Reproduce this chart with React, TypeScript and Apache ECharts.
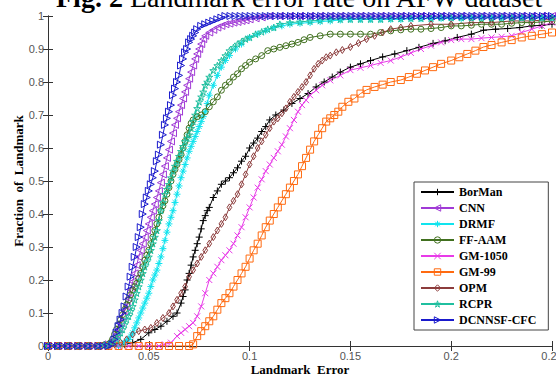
import React, { useEffect, useRef } from "react";
import * as echarts from "echarts";

const seriesNames = ["BorMan", "CNN", "DRMF", "FF-AAM", "GM-1050", "GM-99", "OPM", "RCPR", "DCNNSF-CFC"];
const seriesColors = ["#000000", "#a03ad6", "#10e4ee", "#41701f", "#e83be8", "#ff6a10", "#8c3c3c", "#1fbf9f", "#1a1acc"];
const xTickLabels = ["0", "0.05", "0.1", "0.15", "0.2", "0.25"];
const yTickLabels = ["0", "0.1", "0.2", "0.3", "0.4", "0.5", "0.6", "0.7", "0.8", "0.9", "1"];

const borman = [
  [0, 0], [0.005, 0], [0.01, 0], [0.015, 0], [0.02, 0], [0.025, 0], [0.03, 0], [0.035, 0],
  [0.038, 0.005], [0.042, 0.01], [0.046, 0.02], [0.05, 0.04], [0.053, 0.05], [0.056, 0.06], [0.059, 0.075],
  [0.062, 0.09], [0.064, 0.1], [0.066, 0.13], [0.067, 0.15], [0.068, 0.17], [0.069, 0.2], [0.07, 0.22],
  [0.071, 0.245], [0.072, 0.27], [0.073, 0.29], [0.074, 0.31], [0.075, 0.33], [0.076, 0.355], [0.077, 0.38],
  [0.078, 0.395], [0.079, 0.41], [0.08, 0.42], [0.082, 0.45], [0.084, 0.47], [0.086, 0.49], [0.088, 0.5],
  [0.09, 0.51], [0.092, 0.525], [0.094, 0.54], [0.096, 0.56], [0.098, 0.575], [0.1, 0.6], [0.102, 0.615],
  [0.104, 0.63], [0.106, 0.65], [0.108, 0.665], [0.11, 0.685], [0.113, 0.7], [0.117, 0.715], [0.121, 0.735],
  [0.125, 0.75], [0.129, 0.765], [0.133, 0.785], [0.137, 0.8], [0.141, 0.815], [0.145, 0.83], [0.15, 0.845],
  [0.155, 0.855], [0.16, 0.865], [0.166, 0.876], [0.172, 0.885], [0.178, 0.895], [0.184, 0.905], [0.191, 0.917],
  [0.197, 0.925], [0.203, 0.935], [0.21, 0.945], [0.216, 0.957], [0.222, 0.96], [0.228, 0.962], [0.234, 0.965],
  [0.24, 0.97], [0.245, 0.972], [0.25, 0.975],
];

const cnn = [
  [0, 0], [0.005, 0], [0.01, 0], [0.015, 0], [0.02, 0], [0.025, 0], [0.027, 0.005], [0.029, 0.005], [0.031, 0.01],
  [0.033, 0.02], [0.034, 0.035], [0.035, 0.05], [0.036, 0.07], [0.037, 0.09], [0.038, 0.105], [0.039, 0.12],
  [0.04, 0.145], [0.041, 0.17], [0.042, 0.195], [0.043, 0.22], [0.044, 0.245], [0.045, 0.27], [0.046, 0.29],
  [0.047, 0.31], [0.048, 0.33], [0.049, 0.35], [0.05, 0.37], [0.051, 0.39], [0.052, 0.41], [0.053, 0.43],
  [0.054, 0.45], [0.055, 0.47], [0.056, 0.495], [0.057, 0.52], [0.058, 0.545], [0.059, 0.57], [0.06, 0.595],
  [0.061, 0.62], [0.062, 0.645], [0.063, 0.67], [0.064, 0.69], [0.065, 0.71], [0.066, 0.73], [0.067, 0.75],
  [0.068, 0.77], [0.069, 0.79], [0.07, 0.81], [0.071, 0.83], [0.072, 0.85], [0.073, 0.87], [0.074, 0.885],
  [0.075, 0.9], [0.076, 0.915], [0.077, 0.93], [0.078, 0.94], [0.08, 0.95], [0.082, 0.958], [0.084, 0.965],
  [0.086, 0.97], [0.088, 0.975], [0.09, 0.977], [0.092, 0.98], [0.094, 0.982], [0.096, 0.985], [0.098, 0.987],
  [0.1, 0.99], [0.103, 0.993], [0.106, 0.996], [0.11, 1], [0.115, 1], [0.12, 1], [0.125, 1], [0.13, 1],
  [0.135, 1], [0.14, 1], [0.145, 1], [0.15, 1], [0.155, 1], [0.16, 1], [0.165, 1], [0.17, 1], [0.175, 1],
  [0.18, 1], [0.185, 1], [0.19, 1], [0.195, 1], [0.2, 1], [0.205, 1], [0.21, 1], [0.215, 1], [0.22, 1],
  [0.225, 1], [0.23, 1], [0.235, 1], [0.24, 1], [0.245, 1], [0.25, 1],
];

const drmf = [
  [0, 0], [0.005, 0], [0.01, 0], [0.015, 0], [0.02, 0], [0.025, 0], [0.03, 0], [0.035, 0], [0.036, 0.003],
  [0.038, 0.01], [0.039, 0.015], [0.04, 0.02], [0.041, 0.03], [0.042, 0.04], [0.043, 0.055], [0.044, 0.07],
  [0.045, 0.085], [0.046, 0.1], [0.047, 0.115], [0.048, 0.13], [0.049, 0.145], [0.05, 0.16], [0.051, 0.18],
  [0.052, 0.2], [0.053, 0.215], [0.054, 0.23], [0.055, 0.25], [0.056, 0.27], [0.057, 0.295], [0.058, 0.32],
  [0.059, 0.345], [0.06, 0.37], [0.061, 0.39], [0.062, 0.41], [0.063, 0.435], [0.064, 0.46], [0.065, 0.485],
  [0.066, 0.51], [0.067, 0.53], [0.068, 0.55], [0.069, 0.57], [0.07, 0.59], [0.071, 0.605], [0.072, 0.62],
  [0.073, 0.635], [0.074, 0.65], [0.075, 0.665], [0.076, 0.68], [0.077, 0.695], [0.078, 0.71], [0.079, 0.735],
  [0.08, 0.76], [0.082, 0.79], [0.084, 0.82], [0.086, 0.845], [0.088, 0.865], [0.09, 0.88], [0.093, 0.9],
  [0.096, 0.915], [0.1, 0.935], [0.104, 0.945], [0.108, 0.955], [0.112, 0.965], [0.116, 0.97], [0.12, 0.975],
  [0.125, 0.978], [0.13, 0.98], [0.135, 0.983], [0.14, 0.985], [0.145, 0.988], [0.15, 0.99], [0.155, 0.99],
  [0.16, 0.99], [0.165, 0.99], [0.17, 0.99], [0.175, 0.99], [0.18, 0.992], [0.185, 0.992], [0.19, 0.992],
  [0.195, 0.993], [0.2, 0.993], [0.205, 0.993], [0.21, 0.995], [0.215, 0.995], [0.22, 0.995], [0.225, 0.995],
  [0.23, 0.995], [0.235, 0.995], [0.24, 0.995], [0.245, 0.995], [0.25, 0.995],
];

const ffaam = [
  [0, 0], [0.005, 0], [0.01, 0], [0.015, 0], [0.02, 0], [0.025, 0], [0.028, 0.003], [0.03, 0.005], [0.031, 0.01],
  [0.032, 0.02], [0.033, 0.035], [0.034, 0.05], [0.035, 0.065], [0.036, 0.08], [0.037, 0.095], [0.038, 0.11],
  [0.039, 0.125], [0.04, 0.14], [0.041, 0.155], [0.042, 0.17], [0.043, 0.18], [0.044, 0.19], [0.045, 0.205],
  [0.046, 0.22], [0.047, 0.24], [0.048, 0.26], [0.049, 0.275], [0.05, 0.29], [0.051, 0.31], [0.052, 0.33],
  [0.053, 0.35], [0.054, 0.37], [0.055, 0.39], [0.056, 0.41], [0.057, 0.425], [0.058, 0.44], [0.059, 0.46],
  [0.06, 0.48], [0.061, 0.5], [0.062, 0.52], [0.063, 0.535], [0.064, 0.55], [0.065, 0.565], [0.066, 0.58],
  [0.067, 0.6], [0.068, 0.62], [0.069, 0.64], [0.07, 0.66], [0.071, 0.675], [0.072, 0.685], [0.074, 0.695],
  [0.076, 0.7], [0.078, 0.71], [0.08, 0.725], [0.082, 0.74], [0.084, 0.755], [0.086, 0.775], [0.088, 0.79],
  [0.09, 0.8], [0.092, 0.815], [0.094, 0.825], [0.096, 0.84], [0.098, 0.85], [0.1, 0.86], [0.103, 0.87],
  [0.106, 0.88], [0.109, 0.895], [0.112, 0.9], [0.115, 0.905], [0.118, 0.91], [0.121, 0.915], [0.124, 0.92],
  [0.127, 0.928], [0.13, 0.935], [0.135, 0.94], [0.14, 0.945], [0.145, 0.945], [0.15, 0.945], [0.155, 0.945],
  [0.16, 0.945], [0.165, 0.95], [0.17, 0.955], [0.175, 0.958], [0.18, 0.96], [0.185, 0.96], [0.19, 0.962],
  [0.195, 0.965], [0.2, 0.97], [0.205, 0.97], [0.21, 0.972], [0.215, 0.975], [0.22, 0.975], [0.225, 0.975],
  [0.23, 0.978], [0.235, 0.98], [0.24, 0.98], [0.245, 0.982], [0.25, 0.985],
];

const gm1050 = [
  [0, 0], [0.005, 0], [0.01, 0], [0.015, 0], [0.02, 0], [0.025, 0], [0.03, 0], [0.035, 0], [0.04, 0], [0.045, 0],
  [0.05, 0], [0.055, 0], [0.058, 0.005], [0.061, 0.01], [0.064, 0.03], [0.066, 0.04], [0.068, 0.05], [0.07, 0.06],
  [0.072, 0.07], [0.074, 0.09], [0.076, 0.12], [0.078, 0.16], [0.08, 0.2], [0.082, 0.22], [0.084, 0.24],
  [0.086, 0.26], [0.088, 0.275], [0.09, 0.29], [0.092, 0.31], [0.094, 0.335], [0.096, 0.36], [0.098, 0.39],
  [0.1, 0.42], [0.102, 0.45], [0.104, 0.48], [0.106, 0.505], [0.108, 0.53], [0.11, 0.55], [0.112, 0.57],
  [0.114, 0.59], [0.116, 0.61], [0.118, 0.635], [0.12, 0.66], [0.122, 0.685], [0.124, 0.71], [0.126, 0.73],
  [0.128, 0.745], [0.13, 0.76], [0.133, 0.775], [0.136, 0.79], [0.14, 0.805], [0.145, 0.82], [0.15, 0.836],
  [0.155, 0.843], [0.16, 0.85], [0.165, 0.858], [0.17, 0.865], [0.175, 0.876], [0.18, 0.888], [0.185, 0.9],
  [0.19, 0.91], [0.195, 0.92], [0.2, 0.927], [0.205, 0.93], [0.21, 0.93], [0.215, 0.933], [0.22, 0.935],
  [0.225, 0.937], [0.23, 0.94], [0.235, 0.95], [0.24, 0.96], [0.245, 0.97], [0.25, 0.98],
];

const gm99 = [
  [0, 0], [0.005, 0], [0.01, 0], [0.015, 0], [0.02, 0], [0.025, 0], [0.03, 0], [0.035, 0], [0.04, 0], [0.045, 0],
  [0.05, 0], [0.055, 0], [0.06, 0], [0.065, 0], [0.07, 0], [0.072, 0.005], [0.074, 0.03], [0.076, 0.045],
  [0.078, 0.06], [0.08, 0.075], [0.082, 0.09], [0.084, 0.11], [0.086, 0.13], [0.088, 0.145], [0.09, 0.16],
  [0.092, 0.18], [0.094, 0.2], [0.096, 0.22], [0.098, 0.24], [0.1, 0.265], [0.102, 0.29], [0.104, 0.31],
  [0.106, 0.335], [0.108, 0.36], [0.11, 0.38], [0.112, 0.4], [0.114, 0.42], [0.116, 0.44], [0.118, 0.46],
  [0.12, 0.48], [0.122, 0.5], [0.124, 0.52], [0.126, 0.545], [0.128, 0.57], [0.13, 0.595], [0.132, 0.62],
  [0.134, 0.64], [0.136, 0.66], [0.138, 0.68], [0.14, 0.69], [0.142, 0.7], [0.144, 0.71], [0.146, 0.725],
  [0.149, 0.74], [0.152, 0.75], [0.155, 0.765], [0.158, 0.776], [0.162, 0.785], [0.166, 0.792], [0.17, 0.8],
  [0.175, 0.806], [0.179, 0.815], [0.183, 0.825], [0.187, 0.835], [0.191, 0.845], [0.195, 0.855], [0.2, 0.865],
  [0.204, 0.875], [0.208, 0.885], [0.212, 0.895], [0.216, 0.906], [0.22, 0.912], [0.225, 0.92], [0.23, 0.927],
  [0.235, 0.935], [0.24, 0.94], [0.245, 0.945], [0.25, 0.95],
];

const opm = [
  [0, 0], [0.005, 0], [0.01, 0], [0.015, 0], [0.02, 0], [0.025, 0], [0.03, 0], [0.033, 0.005], [0.036, 0.01],
  [0.039, 0.02], [0.042, 0.035], [0.045, 0.045], [0.048, 0.05], [0.051, 0.055], [0.054, 0.07], [0.057, 0.085],
  [0.06, 0.1], [0.062, 0.12], [0.064, 0.14], [0.066, 0.16], [0.068, 0.18], [0.07, 0.21], [0.072, 0.23],
  [0.074, 0.25], [0.076, 0.27], [0.078, 0.29], [0.08, 0.31], [0.082, 0.33], [0.084, 0.35], [0.086, 0.37],
  [0.088, 0.39], [0.09, 0.42], [0.092, 0.44], [0.094, 0.46], [0.096, 0.49], [0.098, 0.52], [0.1, 0.55],
  [0.102, 0.575], [0.104, 0.6], [0.106, 0.62], [0.108, 0.64], [0.11, 0.66], [0.112, 0.68], [0.114, 0.69],
  [0.116, 0.705], [0.118, 0.72], [0.12, 0.74], [0.122, 0.755], [0.124, 0.77], [0.126, 0.785], [0.128, 0.8],
  [0.13, 0.82], [0.132, 0.84], [0.134, 0.855], [0.136, 0.865], [0.138, 0.875], [0.14, 0.88], [0.143, 0.89],
  [0.146, 0.897], [0.15, 0.906], [0.154, 0.918], [0.158, 0.93], [0.162, 0.94], [0.166, 0.95], [0.17, 0.96],
  [0.175, 0.965], [0.18, 0.97], [0.19, 0.975], [0.2, 0.975], [0.21, 0.98], [0.22, 0.98], [0.23, 0.985],
  [0.24, 0.985], [0.25, 0.99],
];

const rcpr = [
  [0, 0], [0.005, 0], [0.01, 0], [0.015, 0], [0.02, 0], [0.025, 0], [0.028, 0.003], [0.03, 0.005], [0.032, 0.01],
  [0.034, 0.02], [0.035, 0.03], [0.036, 0.04], [0.037, 0.05], [0.038, 0.065], [0.039, 0.08], [0.04, 0.09],
  [0.041, 0.105], [0.042, 0.12], [0.043, 0.14], [0.044, 0.16], [0.045, 0.18], [0.046, 0.2], [0.047, 0.22],
  [0.048, 0.24], [0.049, 0.255], [0.05, 0.27], [0.051, 0.29], [0.052, 0.31], [0.053, 0.33], [0.054, 0.35],
  [0.055, 0.38], [0.056, 0.41], [0.057, 0.435], [0.058, 0.46], [0.059, 0.475], [0.06, 0.49], [0.061, 0.51],
  [0.062, 0.53], [0.063, 0.545], [0.064, 0.56], [0.065, 0.575], [0.066, 0.59], [0.067, 0.605], [0.068, 0.62],
  [0.069, 0.63], [0.07, 0.64], [0.071, 0.66], [0.072, 0.68], [0.073, 0.7], [0.074, 0.72], [0.075, 0.74],
  [0.076, 0.755], [0.077, 0.77], [0.078, 0.79], [0.079, 0.8], [0.08, 0.815], [0.082, 0.835], [0.084, 0.85],
  [0.086, 0.865], [0.088, 0.88], [0.09, 0.895], [0.092, 0.905], [0.094, 0.915], [0.096, 0.922], [0.098, 0.93],
  [0.1, 0.935], [0.103, 0.945], [0.106, 0.952], [0.109, 0.96], [0.112, 0.965], [0.115, 0.975], [0.12, 0.98],
  [0.125, 0.982], [0.13, 0.985], [0.135, 0.987], [0.14, 0.99], [0.145, 0.99], [0.15, 0.99], [0.155, 0.99],
  [0.16, 0.99], [0.165, 0.99], [0.17, 0.992], [0.175, 0.992], [0.18, 0.993], [0.185, 0.993], [0.19, 0.993],
  [0.195, 0.995], [0.2, 0.995], [0.205, 0.995], [0.21, 0.995], [0.215, 0.995], [0.22, 0.995], [0.225, 0.995],
  [0.23, 0.995], [0.235, 0.995], [0.24, 0.995], [0.245, 0.995], [0.25, 0.995],
];

const dcnnsf = [
  [0, 0], [0.0025, 0], [0.005, 0], [0.0075, 0], [0.01, 0], [0.0125, 0], [0.015, 0], [0.0175, 0], [0.02, 0],
  [0.0225, 0], [0.025, 0], [0.0275, 0], [0.03, 0], [0.032, 0.005], [0.033, 0.02], [0.034, 0.04], [0.035, 0.06],
  [0.036, 0.08], [0.037, 0.1], [0.038, 0.12], [0.039, 0.15], [0.04, 0.18], [0.041, 0.21], [0.042, 0.24],
  [0.043, 0.27], [0.044, 0.3], [0.045, 0.33], [0.046, 0.36], [0.047, 0.4], [0.048, 0.43], [0.049, 0.45],
  [0.05, 0.47], [0.051, 0.49], [0.052, 0.51], [0.053, 0.53], [0.054, 0.56], [0.055, 0.58], [0.056, 0.61],
  [0.057, 0.64], [0.058, 0.67], [0.059, 0.69], [0.06, 0.71], [0.061, 0.73], [0.062, 0.76], [0.063, 0.78],
  [0.064, 0.8], [0.065, 0.82], [0.066, 0.85], [0.067, 0.87], [0.068, 0.89], [0.069, 0.9], [0.07, 0.92],
  [0.071, 0.93], [0.072, 0.94], [0.073, 0.95], [0.074, 0.96], [0.076, 0.97], [0.078, 0.975], [0.08, 0.98],
  [0.082, 0.985], [0.084, 0.99], [0.086, 0.995], [0.088, 1], [0.0905, 1], [0.093, 1], [0.0955, 1], [0.098, 1],
  [0.1005, 1], [0.103, 1], [0.1055, 1], [0.108, 1], [0.1105, 1], [0.113, 1], [0.1155, 1], [0.118, 1],
  [0.1205, 1], [0.123, 1], [0.1255, 1], [0.128, 1], [0.1305, 1], [0.133, 1], [0.1355, 1], [0.138, 1],
  [0.1405, 1], [0.143, 1], [0.1455, 1], [0.148, 1], [0.1505, 1], [0.153, 1], [0.1555, 1], [0.158, 1],
  [0.1605, 1], [0.163, 1], [0.1655, 1], [0.168, 1], [0.1705, 1], [0.173, 1], [0.1755, 1], [0.178, 1],
  [0.1805, 1], [0.183, 1], [0.1855, 1], [0.188, 1], [0.1905, 1], [0.193, 1], [0.1955, 1], [0.198, 1],
  [0.2005, 1], [0.203, 1], [0.2055, 1], [0.208, 1], [0.2105, 1], [0.213, 1], [0.2155, 1], [0.218, 1],
  [0.2205, 1], [0.223, 1], [0.2255, 1], [0.228, 1], [0.2305, 1], [0.233, 1], [0.2355, 1], [0.238, 1],
  [0.2405, 1], [0.243, 1], [0.2455, 1], [0.248, 1], [0.25, 1],
];

const seriesData = [borman, cnn, drmf, ffaam, gm1050, gm99, opm, rcpr, dcnnsf];

const SYM_PLUS = "path://M5,0L5,10M0,5L10,5";
const SYM_CROSS = "path://M0,0L10,10M10,0L0,10";
const SYM_ASTER = "path://M5,0L5,10M0,5L10,5M1.5,1.5L8.5,8.5M8.5,1.5L1.5,8.5";
const SYM_TRI_LEFT = "path://M0,5L10,0L10,10Z";
const SYM_TRI_RIGHT = "path://M10,5L0,0L0,10Z";
const SYM_DIAMOND = "path://M4,0L8,6L4,12L0,6Z";
const SYM_CIRCLE = "path://M10,5A5,5,0,1,1,0,5A5,5,0,1,1,10,5Z";
const SYM_SQUARE = "path://M0,0L10,0L10,10L0,10Z";
const SYM_STAR = "path://M50,0L61,35L98,35L68,57L79,91L50,70L21,91L32,57L2,35L39,35Z";

const symbols = [SYM_PLUS, SYM_TRI_LEFT, SYM_ASTER, SYM_CIRCLE, SYM_CROSS, SYM_SQUARE, SYM_DIAMOND, SYM_STAR, SYM_TRI_RIGHT];
const symbolSizes = [7, 7, 7, 6, 6, 7, 7, 7, 7];

export default function App() {
  const ref = useRef<HTMLDivElement>(null);
  useEffect(() => {
    const chart = echarts.init(ref.current!, null, { renderer: "svg" });
    const axisLineColor = "#333";
    const labelStyle = { color: "#555", fontSize: 11, fontFamily: "Liberation Sans" };
    const hollow = (c: string) => ({ color: "rgba(0,0,0,0)", borderColor: c, borderWidth: 1 });
    const option: any = {
      animation: false,
      backgroundColor: "#fff",
      grid: { left: 48, right: 4, top: 16, bottom: 28, outerBoundsMode: "none", containLabel: false },
      title: {
        text: "{b|Fig. 2} Landmark error rate on AFW dataset",
        left: 56,
        top: -17,
        padding: 0,
        z: 1,
        textStyle: {
          fontFamily: "Liberation Serif",
          fontSize: 28,
          fontWeight: "normal",
          color: "#000",
          lineHeight: 28,
          rich: { b: { fontWeight: "bold", fontFamily: "Liberation Serif", fontSize: 28, lineHeight: 28, color: "#000" } },
        },
      },
      xAxis: [
        {
          type: "value", min: 0, max: 0.25, interval: 0.05, position: "bottom",
          name: "Landmark  Error", nameLocation: "middle", nameGap: 23, nameMoveOverlap: false,
          nameTextStyle: { fontFamily: "Liberation Serif", fontWeight: "bold", fontSize: 13, color: "#000", verticalAlign: "middle" },
          axisLine: { show: true, lineStyle: { color: axisLineColor, width: 1 } },
          axisTick: { show: true, inside: true, length: 5, lineStyle: { color: axisLineColor } },
          axisLabel: { ...labelStyle, margin: 4, formatter: (v: number) => xTickLabels[Math.round(v / 0.05)] },
          splitLine: { show: false },
        },
        {
          type: "value", min: 0, max: 0.25, interval: 0.05, position: "top",
          axisLine: { show: true, lineStyle: { color: axisLineColor, width: 1 } },
          axisTick: { show: true, inside: true, length: 5, lineStyle: { color: axisLineColor } },
          axisLabel: { show: false },
          splitLine: { show: false },
        },
      ],
      yAxis: [
        {
          type: "value", min: 0, max: 1, interval: 0.1, position: "left",
          name: "Fraction  of  Landmark", nameLocation: "middle", nameGap: 30, nameMoveOverlap: false,
          nameTextStyle: { fontFamily: "Liberation Serif", fontWeight: "bold", fontSize: 13, color: "#000", verticalAlign: "middle" },
          axisLine: { show: true, lineStyle: { color: axisLineColor, width: 1 } },
          axisTick: { show: true, inside: true, length: 5, lineStyle: { color: axisLineColor } },
          axisLabel: { ...labelStyle, margin: 4, formatter: (v: number) => yTickLabels[Math.round(v * 10)] },
          splitLine: { show: false },
        },
        {
          type: "value", min: 0, max: 1, interval: 0.1, position: "right",
          axisLine: { show: true, lineStyle: { color: axisLineColor, width: 1 } },
          axisTick: { show: true, inside: true, length: 5, lineStyle: { color: axisLineColor } },
          axisLabel: { show: false },
          splitLine: { show: false },
        },
      ],
      legend: {
        orient: "vertical",
        left: 414,
        top: 182,
        backgroundColor: "#fff",
        borderColor: "#444",
        borderWidth: 1,
        borderRadius: 0,
        padding: [4, 12, 4, 6],
        itemWidth: 33,
        itemHeight: 8,
        itemGap: 4,
        textStyle: { fontFamily: "Liberation Serif", fontWeight: "bold", fontSize: 12, color: "#000", lineHeight: 12 },
        data: seriesNames.map((n, i) => ({ name: n, itemStyle: hollow(seriesColors[i]) })),
      },
      series: seriesNames.map((name, i) => ({
        name,
        type: "line",
        xAxisIndex: 0,
        yAxisIndex: 0,
        data: seriesData[i],
        symbol: symbols[i],
        symbolSize: symbolSizes[i],
        symbolKeepAspect: true,
        showSymbol: true,
        lineStyle: { color: seriesColors[i], width: 1 },
        itemStyle: hollow(seriesColors[i]),
        emphasis: { disabled: true },
        z: 2,
      })),
    };
    chart.setOption(option);
    return () => chart.dispose();
  }, []);
  return (
    <div
      ref={ref}
      style={{ position: "fixed", left: 0, top: 0, width: 556, height: 374, background: "#fff" }}
    />
  );
}
